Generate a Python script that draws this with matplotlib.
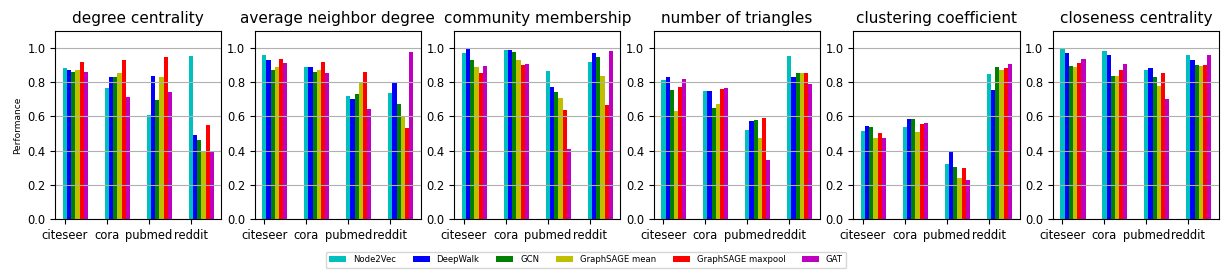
"""Embedding performance per graph property, grouped by dataset."""

import numpy as np
import matplotlib
matplotlib.use("Agg")
import matplotlib.pyplot as plt

datasets = ["citeseer", "cora", "pubmed", "reddit"]
methods = ["Node2Vec", "DeepWalk", "GCN", "GraphSAGE mean", "GraphSAGE maxpool", "GAT"]
colors = ["c", "b", "g", "y", "r", "m"]

tasks = ["degree centrality", "average neighbor degree", "community membership",
         "number of triangles", "clustering coefficient", "closeness centrality"]

# rows: methods, columns: datasets
degree_centrality = [
    [0.880, 0.764, 0.607, 0.955],
    [0.874, 0.828, 0.839, 0.490],
    [0.857, 0.828, 0.694, 0.461],
    [0.874, 0.851, 0.828, 0.400],
    [0.920, 0.932, 0.950, 0.548],
    [0.862, 0.711, 0.740, 0.391],
]
avg_neighbor_degree = [
    [0.961, 0.886, 0.717, 0.734],
    [0.932, 0.891, 0.700, 0.798],
    [0.874, 0.857, 0.729, 0.671],
    [0.891, 0.874, 0.793, 0.595],
    [0.938, 0.920, 0.862, 0.531],
    [0.915, 0.851, 0.641, 0.979],
]
community_membership = [
    [0.973, 0.990, 0.868, 0.920],
    [0.996, 0.990, 0.769, 0.973],
    [0.932, 0.979, 0.740, 0.950],
    [0.891, 0.932, 0.705, 0.839],
    [0.851, 0.903, 0.636, 0.665],
    [0.897, 0.909, 0.409, 0.984],
]
num_triangles = [
    [0.810, 0.746, 0.519, 0.955],
    [0.828, 0.746, 0.572, 0.828],
    [0.752, 0.647, 0.578, 0.851],
    [0.630, 0.671, 0.473, 0.851],
    [0.769, 0.758, 0.589, 0.851],
    [0.816, 0.764, 0.345, 0.787],
]
clustering_coef = [
    [0.514, 0.537, 0.322, 0.845],
    [0.543, 0.583, 0.397, 0.752],
    [0.537, 0.583, 0.304, 0.886],
    [0.473, 0.508, 0.240, 0.874],
    [0.502, 0.554, 0.298, 0.880],
    [0.473, 0.560, 0.229, 0.909],
]
closeness_centrality = [
    [0.996, 0.984, 0.874, 0.961],
    [0.973, 0.961, 0.880, 0.932],
    [0.897, 0.839, 0.828, 0.903],
    [0.886, 0.839, 0.775, 0.897],
    [0.915, 0.874, 0.851, 0.903],
    [0.938, 0.909, 0.700, 0.961],
]

results = [degree_centrality, avg_neighbor_degree, community_membership,
           num_triangles, clustering_coef, closeness_centrality]

fig, axes = plt.subplots(1, 6, figsize=(12.27, 2.78), dpi=100)
fig.subplots_adjust(left=0.045, right=0.9935, top=0.889, bottom=0.212, wspace=0.2)

x = np.arange(len(datasets))
width = 0.1
bars = []
for ax, task, scores in zip(axes, tasks, results):
    bars = []
    for i, (name, col) in enumerate(zip(methods, colors)):
        bars.append(ax.bar(x + i * width, scores[i], width, color=col, label=name))
    ax.set_title(task, fontsize=11)
    ax.set_xticks(x)
    ax.set_xticklabels(datasets)
    ax.tick_params(labelsize=8.3)
    ax.set_ylim(0, 1.1)
    ax.grid(axis="y")

axes[0].set_ylabel("Performance", fontsize=6.5)

fig.legend(bars, methods, loc="center", ncol=6, fontsize=6.1,
           bbox_to_anchor=(0.4776, 0.065))

plt.savefig("out.png", dpi=100)
plt.close()
